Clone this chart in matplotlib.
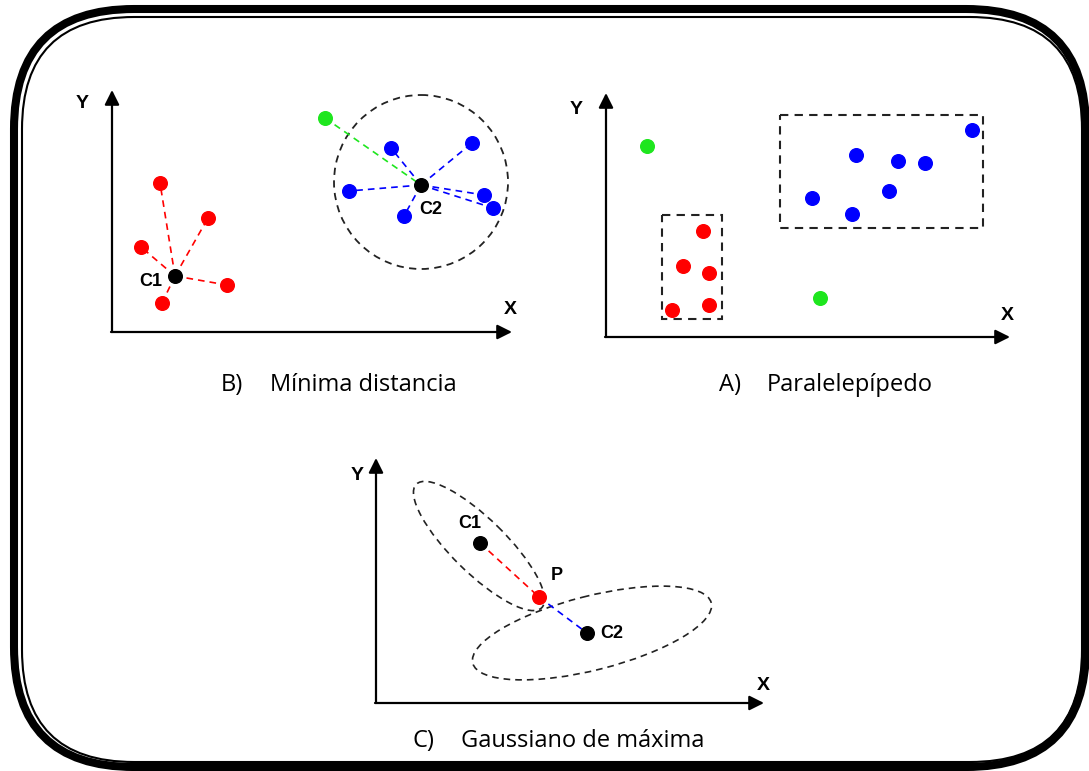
import numpy as np
import matplotlib.pyplot as plt
from matplotlib.patches import FancyBboxPatch, Ellipse, Rectangle

# =========================
# DATA (pixel-like coordinates of the drawing, y grows downward)
# =========================
# --- B) Minima distancia ---
b_origin = (112, 332)
b_ytip = 90
b_xtip = 512
b_red_x = [160, 208, 141, 227, 162]
b_red_y = [183, 218, 247, 285, 303]
b_blue_x = [391, 472, 349, 484, 493, 404]
b_blue_y = [148, 143, 191, 195, 208, 216]
b_green = (325, 118)
b_c1 = (175, 276)
b_c2 = (421, 185)
b_circle = (421, 182, 87)  # cx, cy, radius

# --- A) Paralelepipedo ---
a_origin = (606, 337)
a_ytip = 93
a_xtip = 1010
a_red_x = [703, 683, 709, 672, 709]
a_red_y = [231, 266, 273, 310, 305]
a_blue_x = [812, 856, 852, 898, 925, 889, 972]
a_blue_y = [198, 155, 214, 161, 163, 191, 130]
a_green_x = [647, 820]
a_green_y = [146, 298]
a_red_box = (662, 215, 722, 319)   # x0, y0, x1, y1
a_blue_box = (780, 115, 983, 228)

# --- C) Gaussiano de maxima ---
c_origin = (376, 703)
c_ytip = 458
c_xtip = 764
c_c1 = (480, 543)
c_p = (539, 597)
c_c2 = (587, 633)
c_ell1 = (479, 546, 176, 54, 44.5)    # cx, cy, width, height, angle
c_ell2 = (592, 633, 246, 74, -14.2)

captions = [("B)", "Mínima distancia", 221, 270, 385),
            ("A)", "Paralelepípedo", 719, 767, 385),
            ("C)", "Gaussiano de máxima", 413, 461, 741)]

RED = "#ff0000"
BLUE = "#0000ff"
GREEN = "#1ee61e"
DOT = 9.8
LBL = dict(fontsize=13, fontweight="bold", family="Liberation Sans")
AXL = dict(fontsize=14, fontweight="bold", family="Liberation Sans")
DASH = (0, (4, 3))

fig = plt.figure(figsize=(10.89, 7.71), dpi=100)
ax = fig.add_axes([0, 0, 1, 1])
ax.set_xlim(0, 1089)
ax.set_ylim(771, 0)
ax.axis("off")

# =========================
# border (thick + thin rounded frame)
# =========================
ax.add_patch(FancyBboxPatch((14, 9), 1072, 758, boxstyle="round,pad=0,rounding_size=120",
                            fill=False, lw=5.8, ec="black"))
ax.add_patch(FancyBboxPatch((22, 17), 1060, 745, boxstyle="round,pad=0,rounding_size=112",
                            fill=False, lw=1.5, ec="black"))


def draw_axes(origin, ytip, xtip, ylbl, xlbl):
    ox, oy = origin
    ap = dict(arrowstyle="-|>", color="black", lw=1.6, mutation_scale=22,
              shrinkA=0, shrinkB=0)
    ax.annotate("", xy=(ox, ytip), xytext=(ox, oy), arrowprops=ap)
    ax.annotate("", xy=(xtip, oy), xytext=(ox - 1, oy), arrowprops=ap)
    ax.text(ylbl[0], ylbl[1], "Y", ha="center", va="center", **AXL)
    ax.text(xlbl[0], xlbl[1], "X", ha="center", va="center", **AXL)


# =========================
# B) Minima distancia
# =========================
draw_axes(b_origin, b_ytip, b_xtip, (82, 104), (510, 310))
ax.add_patch(Ellipse(b_circle[:2], 2 * b_circle[2], 2 * b_circle[2], fill=False,
                     ec="#222222", lw=1.3, ls=DASH))
for x, y in zip(b_red_x, b_red_y):
    ax.plot([b_c1[0], x], [b_c1[1], y], color=RED, lw=1.2, ls=DASH)
for x, y in zip(b_blue_x, b_blue_y):
    ax.plot([b_c2[0], x], [b_c2[1], y], color=BLUE, lw=1.2, ls=DASH)
ax.plot([b_green[0], b_c2[0]], [b_green[1], b_c2[1]], color=GREEN, lw=1.2, ls=DASH)
ax.plot(b_red_x, b_red_y, "o", color=RED, ms=DOT)
ax.plot(b_blue_x, b_blue_y, "o", color=BLUE, ms=DOT)
ax.plot(*b_green, "o", color=GREEN, ms=DOT)
ax.plot(*b_c1, "o", color="black", ms=DOT)
ax.plot(*b_c2, "o", color="black", ms=DOT)
ax.text(151, 282, "C1", ha="center", va="center", **LBL)
ax.text(431, 210, "C2", ha="center", va="center", **LBL)

# =========================
# A) Paralelepipedo
# =========================
draw_axes(a_origin, a_ytip, a_xtip, (576, 110), (1007, 316))
for bx in (a_red_box, a_blue_box):
    ax.add_patch(Rectangle((bx[0], bx[1]), bx[2] - bx[0], bx[3] - bx[1], fill=False,
                           ec="#222222", lw=1.5, ls=DASH))
ax.plot(a_red_x, a_red_y, "o", color=RED, ms=DOT)
ax.plot(a_blue_x, a_blue_y, "o", color=BLUE, ms=DOT)
ax.plot(a_green_x, a_green_y, "o", color=GREEN, ms=DOT)

# =========================
# C) Gaussiano de maxima
# =========================
draw_axes(c_origin, c_ytip, c_xtip, (357, 476), (763, 686))
for e in (c_ell1, c_ell2):
    ax.add_patch(Ellipse(e[:2], e[2], e[3], angle=e[4], fill=False,
                         ec="#222222", lw=1.2, ls=DASH))
ax.plot([c_c1[0], c_p[0]], [c_c1[1], c_p[1]], color=RED, lw=1.2, ls=DASH)
ax.plot([c_p[0], c_c2[0]], [c_p[1], c_c2[1]], color=BLUE, lw=1.2, ls=DASH)
ax.plot(*c_c1, "o", color="black", ms=DOT)
ax.plot(*c_c2, "o", color="black", ms=DOT)
ax.plot(*c_p, "o", color=RED, ms=DOT)
ax.text(470, 524, "C1", ha="center", va="center", **LBL)
ax.text(557, 575, "P", ha="center", va="center", **LBL)
ax.text(612, 634, "C2", ha="center", va="center", **LBL)

# captions
for letter, txt, x0, x1, y in captions:
    ax.text(x0, y, letter, ha="left", va="center", fontsize=17, family="Open Sans")
    ax.text(x1, y, txt, ha="left", va="center", fontsize=17, family="Open Sans")

fig.savefig("out.png", dpi=100)
